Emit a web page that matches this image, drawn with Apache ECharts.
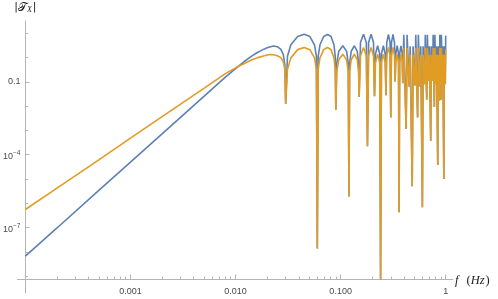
<!DOCTYPE html>
<html><head><meta charset="utf-8">
<script src="https://cdn.jsdelivr.net/npm/echarts@6/dist/echarts.min.js"></script>
<style>html,body{margin:0;padding:0;background:#fff}#c{width:498px;height:299px}</style>
</head><body><div id="c"></div>
<script>
// ---------------- DATA ----------------
// frequency grid, Hz
const freq = [
  0.0001,0.0002,0.0005,0.001,0.002,0.005,0.008,0.010,0.012,0.014,0.016,0.018,0.020,0.0215,0.023,0.025,0.027,0.0285,0.0295,0.030,
  0.0312,0.0336,0.039,0.045,0.051,0.0564,0.0588,0.060,
  0.0612,0.0636,0.069,0.075,0.081,0.0864,0.0888,0.090,
  0.0918,0.096,0.105,0.114,0.1182,0.120,
  0.1218,0.126,0.135,0.144,0.1482,0.150,
  0.1545,0.165,0.1755,0.180,
  0.1845,0.195,0.2055,0.210,
  0.2145,0.225,0.2355,0.240,
  0.2445,0.255,0.2655,0.270,
  0.2745,0.285,0.2955,0.300,
  0.3045,0.315,0.3255,0.330,
  0.3345,0.345,0.3555,0.360,
  0.3645,0.375,0.3855,0.390,
  0.399,0.411,0.420,  0.429,0.441,0.450,  0.459,0.471,0.480,  0.489,0.501,0.510,
  0.519,0.531,0.540,  0.549,0.561,0.570,  0.579,0.591,0.600,  0.609,0.621,0.630,
  0.639,0.651,0.660,  0.669,0.681,0.690,  0.699,0.711,0.720,  0.729,0.741,0.750,
  0.759,0.771,0.780,  0.789,0.801,0.810,  0.819,0.831,0.840,  0.849,0.861,0.870,
  0.879,0.891,0.900,  0.909,0.921,0.930,  0.939,0.951,0.960,  0.969,0.981,0.990,
  1.0
];
// log10 |T_X| for the blue curve
const blueLog10 = [
  -8.18,-7.02,-5.47,-4.31,-3.14,-1.60,-0.80,-0.45,-0.17,0.04,0.20,0.32,0.41,0.45,0.48,0.45,0.34,0.12,-0.32,-1.91,
  0.06,0.53,0.87,0.96,0.87,0.53,0.06,-7.87,
  0.06,0.53,0.87,0.96,0.87,0.53,0.06,-2.15,
  -0.24,0.26,0.49,0.26,-0.24,-5.72,
  -0.24,0.26,0.49,0.26,-0.24,-1.62,
  0.62,0.96,0.62,-3.65,
  0.62,0.96,0.62,-1.59,
  0.15,0.49,0.15,-9.13,
  0.15,0.49,0.15,-1.55,
  0.62,0.96,0.62,-2.47,
  0.62,0.96,0.62,-0.98,
  0.15,0.49,0.15,-6.37,
  0.15,0.49,0.15,-1.05,
  0.94,0.94,-2.94,  0.94,0.94,-1.20,  0.47,0.47,-5.30,  0.47,0.47,-1.15,
  0.94,0.94,-2.47,  0.94,0.94,-1.20,  0.47,0.47,-6.17,  0.47,0.47,-1.10,
  0.94,0.94,-1.73,  0.94,0.94,-0.95,  0.47,0.47,-3.43,  0.47,0.47,-0.95,
  0.94,0.94,-2.03,  0.94,0.94,-1.10,  0.47,0.47,-4.42,  0.47,0.47,-1.78,
  0.94,0.94,-1.74,  0.94,0.94,-1.00,  0.47,0.47,-5.00,  0.47,0.47,-1.10,
  0.90
];
// log10 |T_X| for the orange curve
const orangeLog10 = [
  -6.26,-5.38,-4.21,-3.32,-2.43,-1.27,-0.66,-0.42,-0.25,-0.11,-0.01,0.06,0.11,0.13,0.12,0.08,0.00,-0.17,-0.50,-1.91,
  -0.48,-0.01,0.33,0.42,0.33,-0.01,-0.48,-7.87,
  -0.48,-0.01,0.33,0.42,0.33,-0.01,-0.48,-2.15,
  -0.59,-0.09,0.14,-0.09,-0.59,-5.72,
  -0.59,-0.09,0.14,-0.09,-0.59,-1.62,
  0.08,0.42,0.08,-3.65,
  0.08,0.42,0.08,-1.59,
  -0.20,0.14,-0.20,-9.13,
  -0.20,0.14,-0.20,-1.55,
  0.08,0.42,0.08,-2.47,
  0.08,0.42,0.08,-0.98,
  -0.20,0.14,-0.20,-6.37,
  -0.20,0.14,-0.20,-1.05,
  0.40,0.40,-2.94,  0.40,0.40,-1.20,  0.12,0.12,-5.30,  0.12,0.12,-1.15,
  0.40,0.40,-2.47,  0.40,0.40,-1.20,  0.12,0.12,-6.17,  0.12,0.12,-1.10,
  0.40,0.40,-1.73,  0.40,0.40,-0.95,  0.12,0.12,-3.43,  0.12,0.12,-0.95,
  0.40,0.40,-2.03,  0.40,0.40,-1.10,  0.12,0.12,-4.42,  0.12,0.12,-1.78,
  0.40,0.40,-1.74,  0.40,0.40,-1.00,  0.12,0.12,-5.00,  0.12,0.12,-1.10,
  0.36
];
// axis ticks
const xMajorTicks = [0.001, 0.01, 0.1, 1];
const xMajorLabels = ['0.001', '0.010', '0.100', '1'];
const xMinorTicks = [
  0.0002,0.0003,0.0004,0.0005,0.0006,0.0007,0.0008,0.0009,
  0.002,0.003,0.004,0.005,0.006,0.007,0.008,0.009,
  0.02,0.03,0.04,0.05,0.06,0.07,0.08,0.09,
  0.2,0.3,0.4,0.5,0.6,0.7,0.8,0.9
];
const yLabelTicks = [1e-7, 1e-4, 0.1];
const yLabelTexts = ['{b|10}{s|\u22127}', '{b|10}{s|\u22124}', '0.1'];
const yMinorTicks = [1e-9, 1e-8, 1e-6, 1e-5, 1e-3, 1e-2, 1, 10];

// ---------------- CHART ----------------
const L = Math.log10;
const AX = '#b5b5b5';
const X_MIN = -4.0757, X_MAX = 0.0693, Y_MIN = -9.70, Y_MAX = 1.51;
const pick = (vals, texts, v) => {
  for (let i = 0; i < vals.length; i++) if (Math.abs(L(vals[i]) - v) < 1e-6) return texts[i];
  return '';
};
const blueData = freq.map((f, i) => [L(f), blueLog10[i]]);
const orangeData = freq.map((f, i) => [L(f), orangeLog10[i]]);

const chart = echarts.init(document.getElementById('c'), null, {renderer: 'canvas'});
const labelStyle = {color: '#4a4a4a', fontSize: 9, fontFamily: 'Liberation Sans, Arial, sans-serif'};
chart.setOption({
  animation: false,
  grid: {left: 15, right: 45, top: 21, bottom: 6},
  xAxis: [
    {
      type: 'value', min: X_MIN, max: X_MAX, position: 'bottom', offset: -14,
      axisLine: {show: true, onZero: false, lineStyle: {color: AX, width: 1}},
      axisTick: {show: true, inside: true, length: 4.5, customValues: xMajorTicks.map(L), lineStyle: {color: AX}},
      axisLabel: Object.assign({show: true, margin: 8, customValues: xMajorTicks.map(L),
        formatter: v => pick(xMajorTicks, xMajorLabels, v)}, labelStyle),
      splitLine: {show: false},
      name: '{i|f}{p|(}{i|Hz}{q|)}', nameLocation: 'end', nameGap: 2,
      nameTextStyle: {
        align: 'left', verticalAlign: 'middle', padding: [4, 0, 0, 0],
        rich: {
          i: {fontFamily: 'Liberation Serif', fontStyle: 'italic', fontSize: 12.5, color: '#222'},
          p: {fontFamily: 'Liberation Serif', fontSize: 12.5, color: '#222', padding: [0, 0, 0, 8]},
          q: {fontFamily: 'Liberation Serif', fontSize: 12.5, color: '#222', padding: [0, 0, 0, 1]}
        }
      }
    },
    {
      type: 'value', min: X_MIN, max: X_MAX, position: 'bottom', offset: -14,
      axisLine: {show: false, onZero: false},
      axisTick: {show: true, inside: true, length: 2.5, customValues: xMinorTicks.map(L), lineStyle: {color: AX}},
      axisLabel: {show: false}, splitLine: {show: false}
    }
  ],
  yAxis: [
    {
      type: 'value', min: Y_MIN, max: Y_MAX, position: 'left', offset: -8,
      axisLine: {show: true, onZero: false, lineStyle: {color: AX, width: 1}},
      axisTick: {show: true, inside: true, length: 4, customValues: yLabelTicks.map(L), lineStyle: {color: AX}},
      axisLabel: Object.assign({show: true, margin: 5, customValues: yLabelTicks.map(L),
        formatter: v => pick(yLabelTicks, yLabelTexts, v),
        rich: {
          b: {fontSize: 9, fontFamily: 'Liberation Sans', color: '#4a4a4a', padding: [4, 0, 0, 0]},
          s: {fontSize: 6.5, fontFamily: 'Liberation Sans', color: '#4a4a4a', padding: [0, 0, 3, 0]}
        }}, labelStyle),
      splitLine: {show: false},
      name: '{a||}{t|\u{1D4AF}}{x|X}{a||}', nameLocation: 'end', nameGap: 7,
      nameTextStyle: {
        align: 'center', verticalAlign: 'bottom',
        rich: {
          a: {fontFamily: 'DejaVu Sans', fontSize: 11, color: '#222'},
          t: {fontFamily: 'DejaVu Sans, Liberation Serif', fontSize: 12, color: '#222'},
          x: {fontFamily: 'Liberation Serif', fontStyle: 'italic', fontSize: 8, color: '#222', padding: [5, 1, 0, 0]}
        }
      }
    },
    {
      type: 'value', min: Y_MIN, max: Y_MAX, position: 'left', offset: -8,
      axisLine: {show: false, onZero: false},
      axisTick: {show: true, inside: true, length: 2.7, customValues: yMinorTicks.map(L), lineStyle: {color: AX}},
      axisLabel: {show: false}, splitLine: {show: false}
    }
  ],
  series: [
    {type: 'line', data: blueData, xAxisIndex: 0, yAxisIndex: 0, showSymbol: false, symbol: 'none',
      clip: true, lineStyle: {color: '#5E81B5', width: 1.6}, itemStyle: {color: '#5E81B5'}, z: 2},
    {type: 'line', data: orangeData, xAxisIndex: 0, yAxisIndex: 0, showSymbol: false, symbol: 'none',
      clip: true, lineStyle: {color: '#E19C24', width: 1.6}, itemStyle: {color: '#E19C24'}, z: 3}
  ]
});
</script></body></html>
